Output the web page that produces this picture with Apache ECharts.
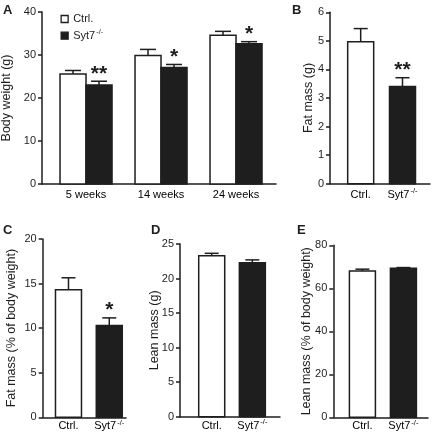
<!DOCTYPE html>
<html><head><meta charset="utf-8">
<script src="https://cdn.jsdelivr.net/npm/echarts@6/dist/echarts.min.js"></script>
<style>html,body{margin:0;padding:0;background:#fff}#c{width:432px;height:438px}</style>
</head><body><div id="c"></div>
<script>
// ---- Data ----
const weeksCategories = ['5 weeks', '14 weeks', '24 weeks'];
const bodyWeightCtrl = [25.6, 29.9, 34.6];
const bodyWeightCtrlErr = [0.8, 1.4, 0.9];
const bodyWeightKO = [23.0, 27.1, 32.6];
const bodyWeightKOErr = [0.9, 0.7, 0.5];
const bodyWeightSig = ['**', '*', '*'];

const groupLabels = ['Ctrl.', 'Syt7-/-'];
const fatMass = [4.97, 3.40];
const fatMassErr = [0.46, 0.31];
const fatMassSig = ['', '**'];
const fatPct = [14.3, 10.3];
const fatPctErr = [1.35, 0.85];
const fatPctSig = ['', '*'];
const leanMass = [23.3, 22.3];
const leanMassErr = [0.35, 0.4];
const leanMassSig = ['', ''];
const leanPct = [68.0, 69.3];
const leanPctErr = [0.9, 0.35];
const leanPctSig = ['', ''];

// ---- Helpers ----
const FONT = 'Liberation Sans, Arial, sans-serif';
const INK = '#1e1e1e';
const rich = {
  a: {fontFamily: FONT, fontSize: 11, color: INK},
  s: {fontFamily: FONT, fontSize: 7.5, color: INK, verticalAlign: 'top', padding: [0, 0, 7, 1]}
};
function labelText(name) {
  return name === 'Syt7-/-' ? '{a|Syt7}{s|-/-}' : '{a|' + name + '}';
}

function barSeries(gi, xs, values, errs, fill, offset, width, cap, sig, name) {
  return {
    type: 'custom', name: name, xAxisIndex: gi, yAxisIndex: gi,
    itemStyle: {color: fill, borderColor: INK, borderWidth: 1.5},
    data: xs.map((x, i) => [x, values[i], errs[i]]),
    renderItem: function (params, api) {
      const x = api.value(0), v = api.value(1), e = api.value(2);
      const base = api.coord([x, 0]);
      const top = api.coord([x, v]);
      const et = api.coord([x, v + e]);
      const cx = base[0] + offset;
      const children = [
        {type: 'line', shape: {x1: cx, y1: top[1], x2: cx, y2: et[1]}, style: {stroke: INK, lineWidth: 1.5}},
        {type: 'line', shape: {x1: cx - cap / 2, y1: et[1], x2: cx + cap / 2, y2: et[1]}, style: {stroke: INK, lineWidth: 1.5}},
        {type: 'rect', shape: {x: cx - width / 2, y: top[1], width: width, height: base[1] - top[1]},
          style: {fill: fill, stroke: INK, lineWidth: 1.5}}
      ];
      const s = sig[params.dataIndex];
      if (s) {
        children.push({type: 'text', style: {text: s, x: cx, y: et[1] + 3, align: 'center', verticalAlign: 'bottom',
          font: 'bold 21px ' + FONT, fill: INK}});
      }
      return {type: 'group', children: children};
    }
  };
}

function labelSeries(gi, xs, labels, dy) {
  return {
    type: 'custom', xAxisIndex: gi, yAxisIndex: gi, silent: true,
    data: xs.map(x => [x, 0]),
    renderItem: function (params, api) {
      const p = api.coord([api.value(0), 0]);
      return {type: 'text', style: {text: labelText(labels[params.dataIndex]), rich: rich,
        x: p[0], y: p[1] + dy, align: 'center', verticalAlign: 'middle'}};
    }
  };
}

const grids = [
  {left: 42, top: 12, width: 234, height: 172},
  {left: 330, top: 12.3, width: 100, height: 171.4},
  {left: 42.7, top: 239, width: 83.3, height: 178.3},
  {left: 180, top: 244, width: 100, height: 172.7},
  {left: 333.3, top: 245.3, width: 94.7, height: 172}
].map(g => Object.assign(g, {containLabel: false, outerBoundsMode: 'none'}));
const xRanges = [[-0.587, 2.533], [-0.734, 1.658], [-0.632, 1.41], [-0.78, 1.68], [-0.71, 1.6]];
const yConf = [
  {max: 40, interval: 10, name: 'Body weight (g)', gap: 28.5},
  {max: 6, interval: 1, name: 'Fat mass (g)', gap: 15},
  {max: 20, interval: 5, name: 'Fat mass (% of body weight)', gap: 25},
  {max: 25, interval: 5, name: 'Lean mass (g)', gap: 19},
  {max: 80, interval: 20, name: 'Lean mass (% of body weight)', gap: 20}
];

const xAxes = xRanges.map((r, i) => ({
  type: 'value', gridIndex: i, min: r[0], max: r[1],
  axisLine: {show: true, onZero: false, lineStyle: {color: INK, width: 1.5}},
  axisTick: {show: false}, axisLabel: {show: false}, splitLine: {show: false}
}));
const yAxes = yConf.map((c, i) => ({
  type: 'value', gridIndex: i, min: 0, max: c.max, interval: c.interval,
  name: c.name, nameLocation: 'middle', nameGap: c.gap, nameMoveOverlap: false,
  nameTextStyle: {fontFamily: FONT, fontSize: 12.5, color: INK},
  axisLine: {show: true, onZero: false, lineStyle: {color: INK, width: 1.5}},
  axisTick: {show: true, length: 4, lineStyle: {color: INK, width: 1.5}},
  axisLabel: {fontFamily: FONT, fontSize: 11, color: INK, margin: 6},
  splitLine: {show: false}
}));

const catX = [0, 1, 2];
const grpX = [0, 1];
const series = [
  barSeries(0, catX, bodyWeightCtrl, bodyWeightCtrlErr, '#ffffff', -13, 26, 16, ['', '', ''], 'Ctrl.'),
  barSeries(0, catX, bodyWeightKO, bodyWeightKOErr, '#1e1e1e', 13, 26, 16, bodyWeightSig, 'Syt7-/-'),
  labelSeries(0, catX, weeksCategories, 11),
  barSeries(1, [0], [fatMass[0]], [fatMassErr[0]], '#ffffff', 0, 26, 14, [fatMassSig[0]], 'b1'),
  barSeries(1, [1], [fatMass[1]], [fatMassErr[1]], '#1e1e1e', 0, 26, 14, [fatMassSig[1]], 'b2'),
  labelSeries(1, grpX, groupLabels, 11),
  barSeries(2, [0], [fatPct[0]], [fatPctErr[0]], '#ffffff', 0, 26, 14, [fatPctSig[0]], 'c1'),
  barSeries(2, [1], [fatPct[1]], [fatPctErr[1]], '#1e1e1e', 0, 26, 14, [fatPctSig[1]], 'c2'),
  labelSeries(2, grpX, groupLabels, 9),
  barSeries(3, [0], [leanMass[0]], [leanMassErr[0]], '#ffffff', 0, 26, 14, [leanMassSig[0]], 'd1'),
  barSeries(3, [1], [leanMass[1]], [leanMassErr[1]], '#1e1e1e', 0, 26, 14, [leanMassSig[1]], 'd2'),
  labelSeries(3, grpX, groupLabels, 9),
  barSeries(4, [0], [leanPct[0]], [leanPctErr[0]], '#ffffff', 0, 26, 14, [leanPctSig[0]], 'e1'),
  barSeries(4, [1], [leanPct[1]], [leanPctErr[1]], '#1e1e1e', 0, 26, 14, [leanPctSig[1]], 'e2'),
  labelSeries(4, grpX, groupLabels, 9)
];

const chart = echarts.init(document.getElementById('c'), null, {renderer: 'canvas'});
chart.setOption({
  animation: false,
  backgroundColor: '#fff',
  grid: grids,
  xAxis: xAxes,
  yAxis: yAxes,
  legend: {
    left: 60.5, top: 13.5, padding: 0, orient: 'vertical', itemWidth: 7, itemHeight: 7, itemGap: 3.7,
    icon: 'rect', selectedMode: false,
    data: [
      {name: 'Ctrl.', itemStyle: {color: '#fff', borderColor: INK, borderWidth: 1.3}},
      {name: 'Syt7-/-', itemStyle: {color: INK, borderColor: INK, borderWidth: 1.3}}
    ],
    formatter: labelText,
    textStyle: {rich: rich}
  },
  title: [
    {text: 'A', left: 3, top: 4},
    {text: 'B', left: 292, top: 4},
    {text: 'C', left: 3, top: 224},
    {text: 'D', left: 151, top: 224},
    {text: 'E', left: 297, top: 224}
  ].map(t => Object.assign(t, {padding: 0, textStyle: {fontFamily: FONT, fontSize: 13, fontWeight: 'bold', color: INK}})),
  series: series
});
</script></body></html>
